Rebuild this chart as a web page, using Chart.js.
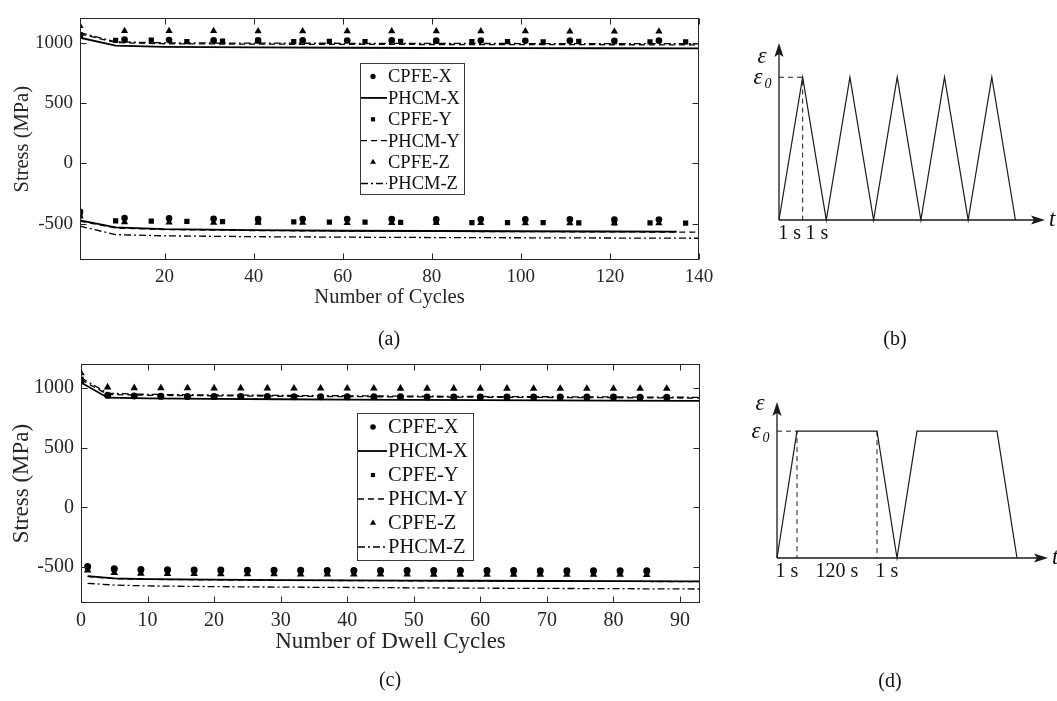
<!DOCTYPE html>
<html><head><meta charset="utf-8">
<script src="https://cdn.jsdelivr.net/npm/chart.js@4.4.1/dist/chart.umd.min.js"></script>
<style>
html,body{margin:0;padding:0;background:#fff;}
body{width:1057px;height:701px;position:relative;overflow:hidden;font-family:"Liberation Serif","Times New Roman",serif;}
canvas{position:absolute;display:block;}
.cap{position:absolute;font-size:20px;color:#111;transform:translate(-50%,-50%);white-space:nowrap;}
</style></head><body>
<canvas id="ca" width="720" height="314" style="left:0;top:0"></canvas>
<canvas id="cb" width="337" height="320" style="left:720px;top:0"></canvas>
<canvas id="cc" width="720" height="315" style="left:0;top:345px"></canvas>
<canvas id="cd" width="337" height="355" style="left:720px;top:345px"></canvas>
<div class="cap" style="left:389px;top:338px">(a)</div>
<div class="cap" style="left:895px;top:338px">(b)</div>
<div class="cap" style="left:390px;top:679px">(c)</div>
<div class="cap" style="left:890px;top:680px">(d)</div>
<script>
// ---------- Panel (a): cyclic loading ----------
const aTicksX = [20,40,60,80,100,120,140];
const aTicksY = [-500,0,500,1000];
const aMarkXZ = [1,11,21,31,41,51,61,71,81,91,101,111,121,131];
const aMarkY  = [1,9,17,25,33,41,49,57,65,73,81,89,97,105,113,121,129,137];
const aCpfeXMax = [1056,1024,1021,1019,1018,1019,1017,1018,1016,1017,1015,1016,1015,1016];
const aCpfeXMin = [-402,-452,-455,-458,-460,-460,-461,-462,-463,-463,-464,-464,-465,-465];
const aCpfeYMax = [1066,1018,1020,1008,1011,1013,1008,1010,1007,1009,1010,1007,1008,1006,1009,1007,1006,1006];
const aCpfeYMin = [-422,-476,-478,-480,-482,-484,-485,-486,-487,-488,-489,-490,-490,-491,-492,-492,-493,-494];
const aCpfeZMax = [1137,1097,1096,1096,1095,1095,1095,1094,1094,1094,1094,1093,1093,1093];
const aCpfeZMin = [-440,-486,-488,-490,-491,-491,-492,-492,-493,-493,-494,-494,-494,-495];
const aLineX    = [1,9,20,40,60,80,100,120,140];
const aLineXEnd = [1,9,20,40,60,80,100,120,135];
const aPhcmXMax = [1040,975,965,960,957,955,954,953,952];
const aPhcmYMax = [1072,1000,990,987,985,984,983,982,981];
const aPhcmZMax = [1082,1006,998,995,994,993,992,991,990];
const aPhcmXMin = [-472,-530,-545,-553,-558,-560,-562,-564,-565];
const aPhcmYMin = [-478,-535,-548,-556,-560,-563,-565,-567,-570];
const aPhcmZMin = [-520,-590,-600,-607,-611,-614,-616,-618,-620];

// ---------- Panel (c): dwell loading ----------
const cTicksX = [0,10,20,30,40,50,60,70,80,90];
const cTicksY = [-500,0,500,1000];
const cMarkTop = [0,4,8,12,16,20,24,28,32,36,40,44,48,52,56,60,64,68,72,76,80,84,88];
const cMarkBot = [1,5,9,13,17,21,25,29,33,37,41,45,49,53,57,61,65,69,73,77,81,85];
const cCpfeXMax = [1058,939,933,930,929,928,927,927,926,926,925,925,925,924,924,924,924,923,923,923,923,922,922];
const cCpfeYMax = [1072,936,929,927,926,925,924,924,923,923,922,922,922,921,921,921,921,920,920,920,920,919,919];
const cCpfeZMax = [1125,1006,999,998,998,997,997,997,996,996,996,996,995,995,995,995,995,994,994,994,994,994,994];
const cCpfeXMin = [-495,-514,-519,-521,-523,-524,-525,-526,-526,-527,-527,-528,-528,-528,-529,-529,-529,-530,-530,-530,-530,-531];
const cCpfeYMin = [-500,-518,-522,-524,-526,-527,-528,-528,-529,-529,-530,-530,-530,-531,-531,-531,-532,-532,-532,-532,-533,-533];
const cCpfeZMin = [-526,-548,-553,-555,-556,-557,-558,-558,-559,-559,-560,-560,-560,-561,-561,-561,-561,-562,-562,-562,-562,-563];
const cLineTopX = [0,4,10,20,30,40,50,60,70,80,93];
const cLineBotX = [1,5,10,20,30,40,50,60,70,80,93];
const cPhcmXMax = [1045,918,912,908,905,902,900,898,896,894,891];
const cPhcmYMax = [1068,945,938,934,930,927,925,922,920,918,915];
const cPhcmZMax = [1085,955,946,941,937,934,931,928,926,924,921];
const cPhcmXMin = [-575,-594,-600,-605,-608,-610,-612,-614,-616,-617,-619];
const cPhcmYMin = [-578,-597,-602,-607,-610,-612,-614,-616,-618,-619,-621];
const cPhcmZMin = [-635,-650,-657,-663,-667,-670,-673,-676,-678,-680,-683];

// ---------- Panels (b) and (d): loading schematics ----------
const bWaveT = [0,1,2,3,4,5,6,7,8,9,10];
const bWaveE = [0,1,0,1,0,1,0,1,0,1,0];
const bGuideT = [0,1,1];
const bGuideE = [1,1,0];
const bAxisMax = [11.25,1.24];
const bTickT = [0.45,1.6];
const bTickText = ['1 s','1 s'];
const dWaveT = [0,1,5,6,7,11,12];
const dWaveE = [0,1,1,0,1,1,0];
const dGuideT = [0,1,1];
const dGuideE = [1,1,0];
const dGuide2T = [5,5];
const dGuide2E = [1,0];
const dAxisMax = [13.55,1.23];
const dTickT = [0.5,3,5.5];
const dTickText = ['1 s','120 s','1 s'];

const SERIF = '"Liberation Serif","Times New Roman",serif';
const INK = '#000';
const AX = '#262626';

function pts(xs, ys){ return xs.map((x,i)=>({x:x, y:ys[i]})); }
function markerDs(label, style, r, xs, ys, rank){
  return {label, data:pts(xs,ys), showLine:false, pointStyle:style, pointRadius:r,
    pointBackgroundColor:INK, pointBorderColor:INK, pointBorderWidth:0, legendRank:rank};
}
function lineDs(label, dash, w, xs, ys, rank){
  return {label, data:pts(xs,ys), showLine:true, borderColor:INK, borderWidth:w, borderDash:dash,
    pointRadius:0, fill:false, tension:0, legendRank:rank};
}
const DASH_Y = [6,4], DASH_Z = [7,3,2,3];

const boxTicks = {
  id:'boxTicks',
  afterDraw(chart){
    const {ctx, chartArea:a, scales} = chart;
    const L = Math.round(a.left)+0.5, R = Math.round(a.right)-0.5, T = Math.round(a.top)+0.5, B = Math.round(a.bottom)-0.5;
    ctx.save();
    ctx.strokeStyle = AX; ctx.lineWidth = 1;
    ctx.strokeRect(L, T, R-L, B-T);
    ctx.beginPath();
    scales.x.ticks.forEach(t=>{
      const px = Math.round(scales.x.getPixelForValue(t.value))+0.5;
      ctx.moveTo(px,B); ctx.lineTo(px,B-6);
      ctx.moveTo(px,T); ctx.lineTo(px,T+6);
    });
    scales.y.ticks.forEach(t=>{
      const py = Math.round(scales.y.getPixelForValue(t.value))+0.5;
      ctx.moveTo(L,py); ctx.lineTo(L+6,py);
      ctx.moveTo(R,py); ctx.lineTo(R-6,py);
    });
    ctx.stroke();
    ctx.restore();
  }
};

const boxLegend = {
  id:'boxLegend',
  afterDraw(chart, args, o){
    const ctx = chart.ctx;
    const items = chart.data.datasets.filter(d=>d.legendRank!==undefined).sort((p,q)=>p.legendRank-q.legendRank);
    ctx.save();
    ctx.fillStyle = '#fff';
    ctx.fillRect(o.left, o.top, o.width, o.height);
    ctx.strokeStyle = '#3a3a3a'; ctx.lineWidth = 1;
    ctx.strokeRect(o.left+0.5, o.top+0.5, o.width, o.height);
    ctx.font = o.fontSize+'px '+SERIF;
    ctx.textBaseline = 'middle'; ctx.textAlign = 'left';
    items.forEach((d,i)=>{
      const cy = o.top + o.first + i*o.rowH;
      ctx.fillStyle = INK; ctx.strokeStyle = INK;
      if(d.showLine){
        ctx.lineWidth = d.borderWidth;
        ctx.setLineDash(d.borderDash||[]);
        ctx.beginPath(); ctx.moveTo(o.left+o.s0, cy); ctx.lineTo(o.left+o.s1, cy); ctx.stroke();
        ctx.setLineDash([]);
      } else {
        Chart.helpers.drawPoint(ctx, {pointStyle:d.pointStyle, radius:d.pointRadius*0.8, rotation:0, borderWidth:0}, o.left+o.mk, cy);
      }
      ctx.fillStyle = '#111';
      ctx.fillText(d.label, o.left+o.tx, cy+1);
    });
    ctx.restore();
  }
};

function mainChart(id, datasets, xr, xt, yt, xTitle, sz){
  return new Chart(document.getElementById(id), {
    type:'scatter',
    data:{datasets},
    options:{
      responsive:false, animation:false, events:[],
      layout:{padding:{left:0, top:13, right:sz.right, bottom:0}},
      scales:{
        x:{type:'linear', min:xr[0], max:xr[1],
          grid:{display:false, drawTicks:false}, border:{display:false},
          ticks:{color:AX, font:{family:SERIF, size:sz.tick}, padding:sz.xpad, maxRotation:0, autoSkip:false, callback:v=>String(v)},
          afterBuildTicks:s=>{ s.ticks = xt.map(v=>({value:v})); },
          afterFit:s=>{ s.height = sz.xh; },
          title:{display:true, text:xTitle, color:AX, font:{family:SERIF, size:sz.title}, padding:{top:0, bottom:4}}
        },
        y:{type:'linear', min:-800, max:1200,
          grid:{display:false, drawTicks:false}, border:{display:false},
          ticks:{color:AX, font:{family:SERIF, size:sz.tick}, padding:7, callback:v=>String(v)},
          afterBuildTicks:s=>{ s.ticks = yt.map(v=>({value:v})); },
          afterFit:s=>{ s.width = sz.yw; },
          title:{display:true, text:'Stress (MPa)', color:AX, font:{family:SERIF, size:sz.title}, padding:{top:sz.ytp, bottom:0}}
        }
      },
      plugins:{legend:{display:false}, tooltip:{enabled:false}, boxLegend:sz.legend}
    },
    plugins:[boxTicks, boxLegend]
  });
}

// Panel (a)
mainChart('ca', [
  markerDs('CPFE-X','circle',3.3,aMarkXZ,aCpfeXMax,0),
  markerDs('CPFE-X','circle',3.3,aMarkXZ,aCpfeXMin),
  markerDs('CPFE-Y','rect',3.7,aMarkY,aCpfeYMax,2),
  markerDs('CPFE-Y','rect',3.7,aMarkY,aCpfeYMin),
  markerDs('CPFE-Z','triangle',4.2,aMarkXZ,aCpfeZMax,4),
  markerDs('CPFE-Z','triangle',4.2,aMarkXZ,aCpfeZMin),
  lineDs('PHCM-X',[],1.8,aLineX,aPhcmXMax,1),
  lineDs('PHCM-X',[],1.8,aLineXEnd,aPhcmXMin),
  lineDs('PHCM-Y',DASH_Y,1.3,aLineX,aPhcmYMax,3),
  lineDs('PHCM-Y',DASH_Y,1.3,aLineX,aPhcmYMin),
  lineDs('PHCM-Z',DASH_Z,1.3,aLineX,aPhcmZMax,5),
  lineDs('PHCM-Z',DASH_Z,1.3,aLineX,aPhcmZMin)
], [1,140], aTicksX, aTicksY, 'Number of Cycles',
  {right:21, tick:19, title:20.5, xpad:6, xh:54, yw:80, ytp:10,
   legend:{left:360, top:63, width:104, height:131, first:13.5, rowH:21.4, fontSize:18.5, s0:1, s1:27, mk:13, tx:28}});

// Panel (c)
mainChart('cc', [
  markerDs('CPFE-X','circle',3.5,cMarkTop,cCpfeXMax,0),
  markerDs('CPFE-X','circle',3.5,cMarkBot,cCpfeXMin),
  markerDs('CPFE-Y','rect',3.7,cMarkTop,cCpfeYMax,2),
  markerDs('CPFE-Y','rect',3.7,cMarkBot,cCpfeYMin),
  markerDs('CPFE-Z','triangle',4.4,cMarkTop,cCpfeZMax,4),
  markerDs('CPFE-Z','triangle',4.4,cMarkBot,cCpfeZMin),
  lineDs('PHCM-X',[],1.8,cLineTopX,cPhcmXMax,1),
  lineDs('PHCM-X',[],1.8,cLineBotX,cPhcmXMin),
  lineDs('PHCM-Y',DASH_Y,1.3,cLineTopX,cPhcmYMax,3),
  lineDs('PHCM-Y',DASH_Y,1.3,cLineBotX,cPhcmYMin),
  lineDs('PHCM-Z',DASH_Z,1.3,cLineTopX,cPhcmZMax,5),
  lineDs('PHCM-Z',DASH_Z,1.3,cLineBotX,cPhcmZMin)
], [0,93], cTicksX, cTicksY, 'Number of Dwell Cycles',
  {right:20, tick:20, title:23, xpad:6, xh:57, yw:81, ytp:8,
   legend:{left:357, top:68, width:116, height:147, first:14, rowH:24, fontSize:20.5, s0:1, s1:30, mk:16, tx:31}});

// ---------- schematic plugin ----------
function arrowHead(ctx, x, y, dir){
  const L = 14, W = 4.6, N = 3;
  ctx.beginPath();
  if(dir==='right'){
    ctx.moveTo(x,y); ctx.lineTo(x-L,y-W); ctx.lineTo(x-L+N,y); ctx.lineTo(x-L,y+W);
  } else {
    ctx.moveTo(x,y); ctx.lineTo(x-W,y+L); ctx.lineTo(x,y+L-N); ctx.lineTo(x+W,y+L);
  }
  ctx.closePath(); ctx.fill();
}
const schem = {
  id:'schem',
  afterDatasetsDraw(chart, args, o){
    const {ctx, scales:{x, y}} = chart;
    const x0 = x.getPixelForValue(0), y0 = y.getPixelForValue(0);
    const xt = x.getPixelForValue(o.axisMax[0]), yt = y.getPixelForValue(o.axisMax[1]);
    const y1 = y.getPixelForValue(1);
    ctx.save();
    ctx.strokeStyle = '#1a1a1a'; ctx.fillStyle = '#1a1a1a'; ctx.lineWidth = 1.3;
    ctx.beginPath();
    ctx.moveTo(x0, y0); ctx.lineTo(xt-8, y0);
    ctx.moveTo(x0, y0); ctx.lineTo(x0, yt+8);
    ctx.stroke();
    arrowHead(ctx, xt, y0, 'right');
    arrowHead(ctx, x0, yt, 'up');
    ctx.fillStyle = '#111';
    ctx.textBaseline = 'middle';
    ctx.textAlign = 'center';
    ctx.font = 'italic 23px '+SERIF;
    ctx.fillText('ε', x0-17, yt+o.epsDy);
    ctx.fillText('ε', x0-21, y1+1);
    ctx.font = 'italic 14px '+SERIF;
    ctx.fillText('0', x0-11, y1+7);
    ctx.textAlign = 'left';
    ctx.font = 'italic 23px '+SERIF;
    ctx.fillText('t', xt+4, y0);
    ctx.textAlign = 'center';
    ctx.font = '20px '+SERIF;
    o.tickT.forEach((t,i)=>ctx.fillText(o.tickText[i], x.getPixelForValue(t), y0+14));
    ctx.restore();
  }
};
function schematic(id, sets, axisMax, tickT, tickText, pad, epsDy){
  return new Chart(document.getElementById(id), {
    type:'scatter',
    data:{datasets: sets},
    options:{
      responsive:false, animation:false, events:[],
      layout:{padding:pad},
      scales:{x:{type:'linear', display:false, min:0, max:axisMax[0]}, y:{type:'linear', display:false, min:0, max:axisMax[1]}},
      plugins:{legend:{display:false}, tooltip:{enabled:false}, schem:{axisMax, tickT, tickText, epsDy}}
    },
    plugins:[schem]
  });
}
function wave(ts, es){ return {data:pts(ts,es), showLine:true, borderColor:'#1a1a1a', borderWidth:1.2, pointRadius:0, tension:0, clip:false}; }
function guide(ts, es){ return {data:pts(ts,es), showLine:true, borderColor:'#1a1a1a', borderWidth:1, borderDash:[5,4], pointRadius:0, tension:0, clip:false}; }

schematic('cb', [wave(bWaveT,bWaveE), guide(bGuideT,bGuideE)], bAxisMax, bTickT, bTickText,
  {left:59, right:12, top:43, bottom:100}, 14);
schematic('cd', [wave(dWaveT,dWaveE), guide(dGuideT,dGuideE), guide(dGuide2T,dGuide2E)], dAxisMax, dTickT, dTickText,
  {left:57, right:9, top:57, bottom:142}, 2);
</script>
</body></html>
